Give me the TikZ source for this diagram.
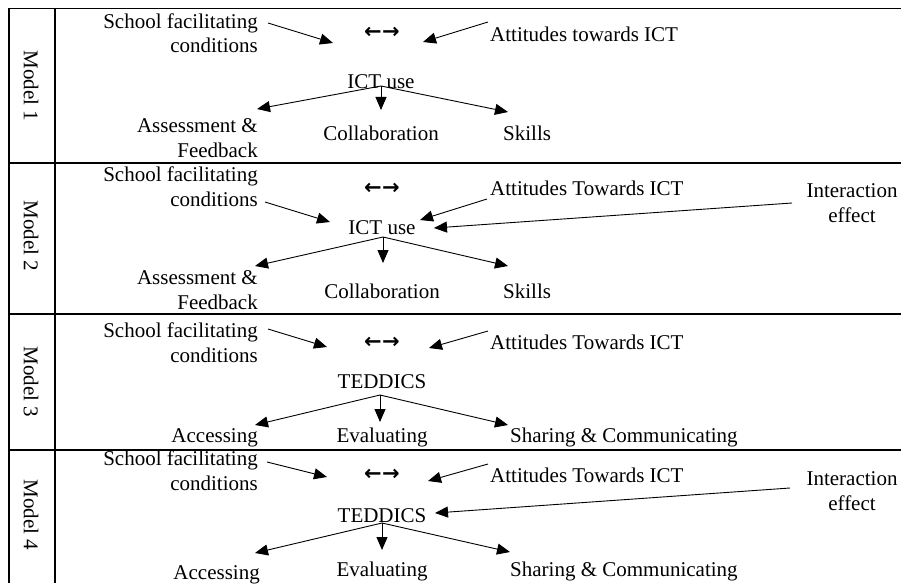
\documentclass[tikz,border=0pt]{standalone}
\usepackage{fontspec}
\setmainfont{Liberation Serif}
\newfontfamily\arrowfont{DejaVu Sans}
\usetikzlibrary{arrows.meta}
\begin{document}
\begin{tikzpicture}[x=1pt,y=-1pt,
  lbl/.style={inner sep=0pt, font=\fontsize{21}{24.5}\selectfont},
  bidir/.style={inner sep=0pt, font=\fontsize{21}{24.5}\arrowfont\bfseries},
  arr/.style={line width=0.9pt, -{Triangle[length=13pt,width=11pt]}},
  gridline/.style={line width=1.8pt},
  modl/.style={lbl, rotate=-90}]
\useasboundingbox (0,0) rectangle (901,583);
% table frame
\draw[gridline] (9,583) -- (9,8.5) -- (901,8.5);
\draw[gridline] (55,8.5) -- (55,583);
\draw[gridline] (9,163) -- (901,163);
\draw[gridline] (9,314) -- (901,314);
\draw[gridline] (9,450) -- (901,450);

% ---------------- Model 1
\node[modl] (m1) at (31,86) {Model 1};
\node[lbl, anchor=base east, align=right] (sf1) at (258,53) {School facilitating\\conditions};
\node[bidir] (bi1) at (382,33) {←\kern0.5pt→};
\node[lbl, anchor=base west] (at1) at (490,42) {Attitudes towards ICT};
\node[lbl, anchor=base] (ict1) at (381,89) {ICT use};
\node[lbl, anchor=base east, align=right] (as1) at (258,157) {Assessment \&\\Feedback};
\node[lbl, anchor=base] (co1) at (381,140) {Collaboration};
\node[lbl, anchor=base west] (sk1) at (503,140) {Skills};
\coordinate (sf1s) at (268,23);  \coordinate (sf1t) at (333,43);
\coordinate (at1s) at (488,22);  \coordinate (at1t) at (423,42);
\coordinate (o1) at (381,86);
\coordinate (l1) at (257,109); \coordinate (d1) at (381,110); \coordinate (r1) at (508,112);
\draw[arr] (sf1s) -- (sf1t);
\draw[arr] (at1s) -- (at1t);
\draw[arr] (o1) -- (l1);
\draw[arr] (o1) -- (d1);
\draw[arr] (o1) -- (r1);

% ---------------- Model 2
\node[modl] (m2) at (31,236) {Model 2};
\node[lbl, anchor=base east, align=right] (sf2) at (258,206) {School facilitating\\conditions};
\node[bidir] (bi2) at (382,189) {←\kern0.5pt→};
\node[lbl, anchor=base west] (at2) at (490,195) {Attitudes Towards ICT};
\node[lbl, anchor=base, align=center] (in2) at (852,222) {Interaction\\effect};
\node[lbl, anchor=base] (ict2) at (382,234) {ICT use};
\node[lbl, anchor=base east, align=right] (as2) at (258,309) {Assessment \&\\Feedback};
\node[lbl, anchor=base] (co2) at (382,298) {Collaboration};
\node[lbl, anchor=base west] (sk2) at (503,298) {Skills};
\coordinate (sf2s) at (265,202); \coordinate (sf2t) at (330,222);
\coordinate (at2s) at (487,199); \coordinate (at2t) at (420,220);
\coordinate (in2s) at (792,203); \coordinate (in2t) at (434,228);
\coordinate (o2) at (383,237);
\coordinate (l2) at (255,266); \coordinate (d2) at (383,263); \coordinate (r2) at (508,266);
\draw[arr] (sf2s) -- (sf2t);
\draw[arr] (at2s) -- (at2t);
\draw[arr] (in2s) -- (in2t);
\draw[arr] (o2) -- (l2);
\draw[arr] (o2) -- (d2);
\draw[arr] (o2) -- (r2);

% ---------------- Model 3
\node[modl] (m3) at (31,382) {Model 3};
\node[lbl, anchor=base east, align=right] (sf3) at (258,362) {School facilitating\\conditions};
\node[bidir] (bi3) at (382,343) {←\kern0.5pt→};
\node[lbl, anchor=base west] (at3) at (490,349) {Attitudes Towards ICT};
\node[lbl, anchor=base] (ted3) at (382,388) {TEDDICS};
\node[lbl, anchor=base east] (ac3) at (258,442) {Accessing};
\node[lbl, anchor=base] (ev3) at (382,442) {Evaluating};
\node[lbl, anchor=base west] (sh3) at (510,442) {Sharing \& Communicating};
\coordinate (sf3s) at (268,329); \coordinate (sf3t) at (327,347);
\coordinate (at3s) at (488,331); \coordinate (at3t) at (429,348);
\coordinate (o3) at (380,395);
\coordinate (l3) at (255,425); \coordinate (d3) at (380,422); \coordinate (r3) at (508,425);
\draw[arr] (sf3s) -- (sf3t);
\draw[arr] (at3s) -- (at3t);
\draw[arr] (o3) -- (l3);
\draw[arr] (o3) -- (d3);
\draw[arr] (o3) -- (r3);

% ---------------- Model 4
\node[modl] (m4) at (31,515) {Model 4};
\node[lbl, anchor=base east, align=right] (sf4) at (258,490) {School facilitating\\conditions};
\node[bidir] (bi4) at (382,475) {←\kern0.5pt→};
\node[lbl, anchor=base west] (at4) at (490,482) {Attitudes Towards ICT};
\node[lbl, anchor=base, align=center] (in4) at (852,510) {Interaction\\effect};
\node[lbl, anchor=base] (ted4) at (382,522) {TEDDICS};
\node[lbl, anchor=base east] (ac4) at (260,579) {Accessing};
\node[lbl, anchor=base] (ev4) at (382,576) {Evaluating};
\node[lbl, anchor=base west] (sh4) at (510,576) {Sharing \& Communicating};
\coordinate (sf4s) at (267,462); \coordinate (sf4t) at (327,477);
\coordinate (at4s) at (488,464); \coordinate (at4t) at (428,481);
\coordinate (in4s) at (790,488); \coordinate (in4t) at (435,513);
\coordinate (o4) at (382,523);
\coordinate (l4) at (255,553); \coordinate (d4) at (382,550); \coordinate (r4) at (510,552);
\draw[arr] (sf4s) -- (sf4t);
\draw[arr] (at4s) -- (at4t);
\draw[arr] (in4s) -- (in4t);
\draw[arr] (o4) -- (l4);
\draw[arr] (o4) -- (d4);
\draw[arr] (o4) -- (r4);
\end{tikzpicture}
\end{document}
